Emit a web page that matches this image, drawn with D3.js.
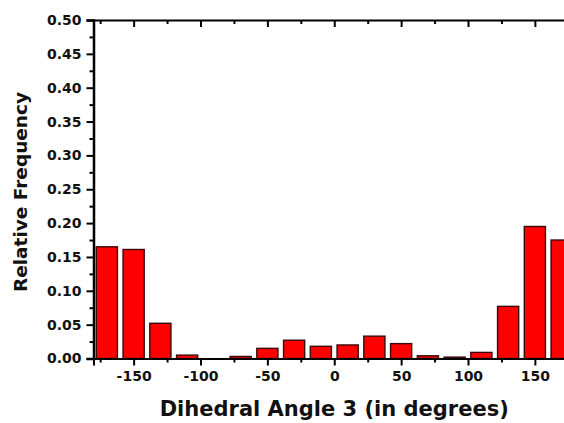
<!DOCTYPE html>
<html>
<head>
<meta charset="utf-8">
<script src="https://cdn.jsdelivr.net/npm/d3@7"></script>
<style>
  html, body { margin: 0; padding: 0; background: #fff; overflow: hidden; }
  svg { display: block; }
  text { font-family: "DejaVu Sans", sans-serif; font-weight: bold; fill: #111; }
</style>
</head>
<body>
<svg id="chart" width="564" height="423"></svg>
<script>
// ---- data ----
const binCenters = [-170, -150, -130, -110, -90, -70, -50, -30, -10, 10, 30, 50, 70, 90, 110, 130, 150, 170];
const relFreq    = [0.165, 0.161, 0.052, 0.005, 0.0, 0.003, 0.015, 0.027, 0.018, 0.020, 0.033, 0.022, 0.004, 0.002, 0.009, 0.077, 0.195, 0.175];
const xMajorTicks = [-150, -100, -50, 0, 50, 100, 150];
const xMinorTicks = [-175, -125, -75, -25, 25, 75, 125, 175];
const yMajorTicks = [0, 0.05, 0.10, 0.15, 0.20, 0.25, 0.30, 0.35, 0.40, 0.45, 0.50];
const yMinorTicks = [0.025, 0.075, 0.125, 0.175, 0.225, 0.275, 0.325, 0.375, 0.425, 0.475];
const binWidth = 20;
const xTitle = "Dihedral Angle 3 (in degrees)";
const yTitle = "Relative Frequency";

// ---- layout ----
const svg = d3.select("#chart");
const mLeft = 93.5, mRight = 575, mTop = 20, mBottom = 358.5;

const x = d3.scaleLinear().domain([-180, 180]).range([mLeft, mRight]);
const y = d3.scaleLinear().domain([0, 0.5]).range([mBottom, mTop]);

// bars
const bw = (x(binWidth) - x(0)) * 0.79;
svg.append("g").selectAll("rect")
  .data(binCenters.map((c, i) => ({c, v: relFreq[i]})))
  .join("rect")
  .attr("x", d => x(d.c) - bw / 2)
  .attr("width", bw)
  .attr("y", d => y(d.v))
  .attr("height", d => Math.max(0, y(0) - y(d.v)))
  .attr("fill", "#ff0000")
  .attr("stroke", "#3a0a0a")
  .attr("stroke-width", 1.4);

// bottom axis (major)
const xAxis = svg.append("g").attr("transform", `translate(0,${mBottom})`)
  .call(d3.axisBottom(x).tickValues(xMajorTicks).tickFormat(d => String(d)).tickSize(7).tickPadding(6));
xAxis.select(".domain").attr("stroke", "#000").attr("stroke-width", 2);
xAxis.selectAll(".tick line").attr("stroke", "#000").attr("stroke-width", 2);
xAxis.selectAll("text").style("font-size", "14px").attr("fill", "#111");
// bottom minor
svg.append("g").attr("transform", `translate(0,${mBottom})`)
  .call(d3.axisBottom(x).tickValues(xMinorTicks).tickFormat("").tickSize(4))
  .call(g => g.select(".domain").remove())
  .call(g => g.selectAll(".tick line").attr("stroke", "#000").attr("stroke-width", 2));

// top axis (inward ticks)
const xTop = svg.append("g").attr("transform", `translate(0,${mTop})`)
  .call(d3.axisBottom(x).tickValues(xMajorTicks).tickFormat("").tickSize(7));
xTop.select(".domain").attr("stroke", "#000").attr("stroke-width", 2);
xTop.selectAll(".tick line").attr("stroke", "#000").attr("stroke-width", 2);
svg.append("g").attr("transform", `translate(0,${mTop})`)
  .call(d3.axisBottom(x).tickValues(xMinorTicks).tickFormat("").tickSize(4))
  .call(g => g.select(".domain").remove())
  .call(g => g.selectAll(".tick line").attr("stroke", "#000").attr("stroke-width", 2));

// left axis
const yAxis = svg.append("g").attr("transform", `translate(${mLeft},0)`)
  .call(d3.axisLeft(y).tickValues(yMajorTicks).tickFormat(d3.format(".2f")).tickSize(7).tickPadding(5));
yAxis.select(".domain").attr("stroke", "#000").attr("stroke-width", 2.5);
yAxis.selectAll(".tick line").attr("stroke", "#000").attr("stroke-width", 2);
yAxis.selectAll("text").style("font-size", "14px").attr("fill", "#111");
svg.append("g").attr("transform", `translate(${mLeft},0)`)
  .call(d3.axisLeft(y).tickValues(yMinorTicks).tickFormat("").tickSize(4))
  .call(g => g.select(".domain").remove())
  .call(g => g.selectAll(".tick line").attr("stroke", "#000").attr("stroke-width", 2));

// titles
svg.append("text")
  .attr("x", x(0)).attr("y", 416)
  .attr("text-anchor", "middle")
  .style("font-size", "21px")
  .text(xTitle);
svg.append("text")
  .attr("transform", "translate(27,192) rotate(-90)")
  .attr("text-anchor", "middle")
  .style("font-size", "18.5px")
  .text(yTitle);
</script>
</body>
</html>
